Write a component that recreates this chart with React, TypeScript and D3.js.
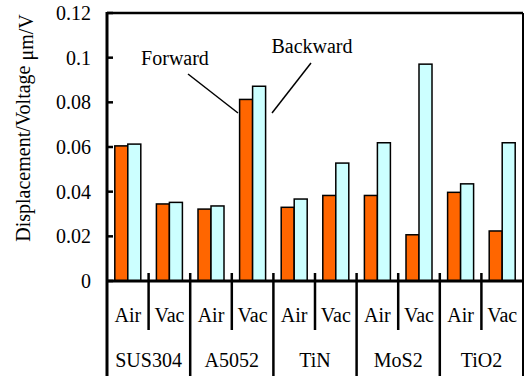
import React, { useEffect, useRef } from "react";
import * as d3 from "d3";

const materials = ["SUS304", "A5052", "TiN", "MoS2", "TiO2"];
const conditions = ["Air", "Vac"];
// one value per material x condition, in order
const forward = [0.0605, 0.0345, 0.0322, 0.0813, 0.033, 0.0383, 0.0383, 0.0207, 0.0397, 0.0224];
const backward = [0.0613, 0.0352, 0.0336, 0.0872, 0.0367, 0.0528, 0.0619, 0.0971, 0.0435, 0.0619];
const yTicks = [0, 0.02, 0.04, 0.06, 0.08, 0.1, 0.12];

const W = 526;
const H = 376;

const App = () => {
    const ref = useRef<SVGGElement>(null);

    useEffect(() => {
        const g = d3.select(ref.current);
        g.selectAll("*").remove();

        const left = 107, right = 523, top = 13, bottom = 281;

        const slots = materials.flatMap(m => conditions.map(c => `${m}|${c}`));
        const x = d3.scaleBand().domain(slots).range([left, right]);
        const xMat = d3.scaleBand().domain(materials).range([left, right]);
        const y = d3.scaleLinear().domain([0, 0.12]).range([bottom, top]);

        const barW = 13;
        const data = slots.map((s, i) => ({ s, f: forward[i], b: backward[i] }));

        // bars
        g.selectAll("rect.fwd")
            .data(data)
            .enter().append("rect")
            .attr("x", d => x(d.s)! + x.bandwidth() / 2 - barW)
            .attr("y", d => y(d.f))
            .attr("width", barW)
            .attr("height", d => y(0) - y(d.f))
            .attr("fill", "#ff6600")
            .attr("stroke", "#000")
            .attr("stroke-width", 1.5);

        g.selectAll("rect.bwd")
            .data(data)
            .enter().append("rect")
            .attr("x", d => x(d.s)! + x.bandwidth() / 2)
            .attr("y", d => y(d.b))
            .attr("width", barW)
            .attr("height", d => y(0) - y(d.b))
            .attr("fill", "#ccffff")
            .attr("stroke", "#000")
            .attr("stroke-width", 1.5);

        // frame
        g.append("line").attr("x1", left).attr("x2", right).attr("y1", top).attr("y2", top)
            .attr("stroke", "#000").attr("stroke-width", 2.5);
        g.append("line").attr("x1", right).attr("x2", right).attr("y1", top).attr("y2", H)
            .attr("stroke", "#000").attr("stroke-width", 2);
        g.append("line").attr("x1", left).attr("x2", left).attr("y1", top - 1).attr("y2", H)
            .attr("stroke", "#000").attr("stroke-width", 3);
        g.append("line").attr("x1", left).attr("x2", right).attr("y1", bottom).attr("y2", bottom)
            .attr("stroke", "#000").attr("stroke-width", 3);

        // y ticks
        const yt = g.selectAll("g.ytick").data(yTicks).enter().append("g");
        yt.append("line")
            .attr("x1", left).attr("x2", left + 6)
            .attr("y1", d => y(d)).attr("y2", d => y(d))
            .attr("stroke", "#000").attr("stroke-width", 2.5);
        yt.append("text")
            .attr("x", left - 16)
            .attr("y", d => y(d))
            .attr("dy", "0.35em")
            .attr("text-anchor", "end")
            .text(d => d3.format("")(d));

        // condition separators and labels
        slots.forEach((s, i) => {
            if (i % 2 === 1) {
                g.append("line")
                    .attr("x1", x(s)!).attr("x2", x(s)!)
                    .attr("y1", bottom - 8).attr("y2", 330)
                    .attr("stroke", "#000").attr("stroke-width", 2.5);
            }
            g.append("text")
                .attr("x", x(s)! + x.bandwidth() / 2)
                .attr("y", 322)
                .attr("text-anchor", "middle")
                .text(s.split("|")[1]);
        });

        materials.forEach((m, i) => {
            if (i > 0) {
                g.append("line")
                    .attr("x1", xMat(m)!).attr("x2", xMat(m)!)
                    .attr("y1", bottom - 8).attr("y2", H)
                    .attr("stroke", "#000").attr("stroke-width", 2.5);
            }
            g.append("text")
                .attr("x", xMat(m)! + xMat.bandwidth() / 2)
                .attr("y", 367)
                .attr("text-anchor", "middle")
                .text(m);
        });

        // annotations
        g.append("text").attr("x", 175).attr("y", 65).attr("text-anchor", "middle").text("Forward");
        g.append("line").attr("x1", 188).attr("y1", 74).attr("x2", 238).attr("y2", 113)
            .attr("stroke", "#000").attr("stroke-width", 1.5);
        g.append("text").attr("x", 312).attr("y", 53).attr("text-anchor", "middle").text("Backward");
        g.append("line").attr("x1", 311).attr("y1", 63).attr("x2", 272).attr("y2", 113)
            .attr("stroke", "#000").attr("stroke-width", 1.5);

        // y label
        const yl = g.append("text")
            .attr("transform", `translate(30, 128) rotate(-90)`)
            .attr("text-anchor", "middle");
        yl.append("tspan").text("Displacement/Voltage ");
        yl.append("tspan").attr("dy", 3).text("μm/V");

        g.selectAll("text")
            .style("font-family", "'Liberation Serif', 'Times New Roman', Times, serif")
            .style("font-size", "20px")
            .attr("fill", "#000");
    }, []);

    return (
        <svg width={W} height={H} style={{ position: "absolute", left: 0, top: 0, background: "#fff" }}>
            <g ref={ref} />
        </svg>
    );
};

export default App;
